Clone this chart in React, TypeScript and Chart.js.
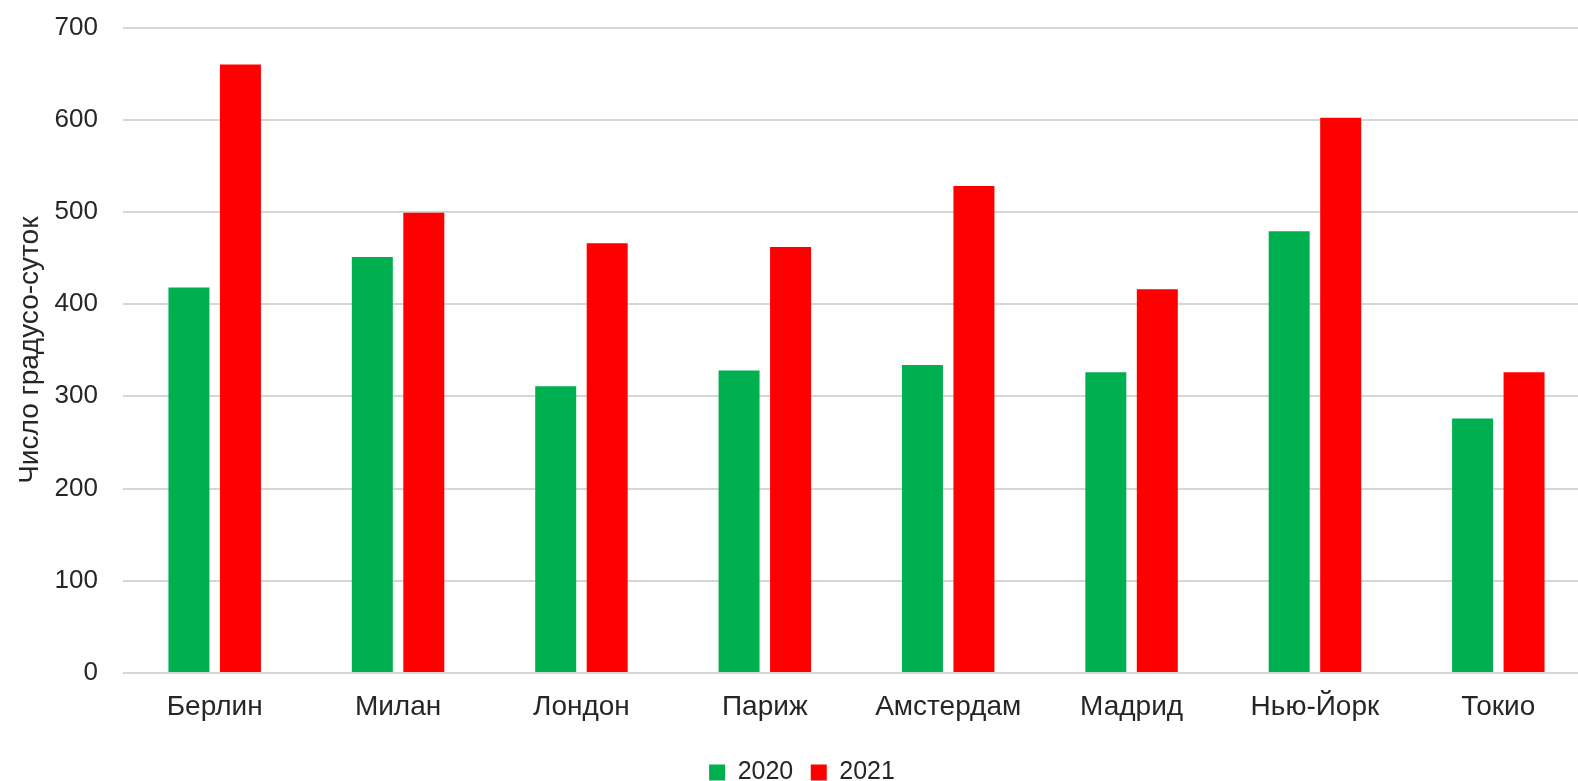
import React, { useEffect, useRef } from "react";
import { Chart, registerables } from "chart.js";

Chart.register(...registerables);

const cities = ["Берлин", "Милан", "Лондон", "Париж", "Амстердам", "Мадрид", "Нью-Йорк", "Токио"];
const values2020 = [418, 451, 311, 328, 334, 326, 479, 276];
const values2021 = [660, 499, 466, 462, 528, 416, 602, 326];
const seriesLabels = ["2020", "2021"];
const yTicksMax = 700;
const yTickStep = 100;
const yTitle = "Число градусо-суток";

const FONT = "'Liberation Sans', Arial, sans-serif";
const TEXT = "#262626";

export default function App() {
  const ref = useRef<HTMLCanvasElement | null>(null);

  useEffect(() => {
    if (!ref.current) return;
    const chart = new Chart(ref.current, {
      type: "bar",
      data: {
        labels: cities,
        datasets: [
          {
            label: seriesLabels[0],
            data: values2020,
            backgroundColor: "#00B050",
            borderWidth: 0,
          },
          {
            label: seriesLabels[1],
            data: values2021,
            backgroundColor: "#FF0000",
            borderWidth: 0,
          },
        ],
      },
      options: {
        responsive: false,
        animation: false,
        devicePixelRatio: 1,
        layout: { padding: { left: 14, right: 34, top: 27.5, bottom: 6 } },
        datasets: {
          bar: { categoryPercentage: 0.5616, barPercentage: 0.796 },
        },
        plugins: {
          tooltip: { enabled: false },
          legend: {
            position: "bottom",
            labels: {
              color: TEXT,
              font: { family: FONT, size: 25 },
              boxWidth: 16,
              boxHeight: 16,
              padding: 17.5,
            },
          },
        },
        scales: {
          x: {
            grid: { display: false, drawTicks: false },
            border: { display: false },
            ticks: {
              color: TEXT,
              font: { family: FONT, size: 28 },
              padding: 18,
              maxRotation: 0,
              autoSkip: false,
            },
          },
          y: {
            min: 0,
            max: yTicksMax,
            afterFit: (scale: any) => {
              scale.width = 109;
              scale.paddingTop = 0;
              scale.paddingBottom = 0;
            },
            grid: { color: "#d6d6d6", lineWidth: 2, drawTicks: false },
            border: { display: false },
            ticks: {
              stepSize: yTickStep,
              color: TEXT,
              font: { family: FONT, size: 26 },
              padding: 25,
            },
            title: {
              display: true,
              text: yTitle,
              color: TEXT,
              font: { family: FONT, size: 28 },
              padding: { top: -1, bottom: 0 },
            },
          },
        },
      },
    });
    return () => chart.destroy();
  }, []);

  return (
    <div
      style={{
        position: "fixed",
        left: 0,
        top: 0,
        width: 1578,
        height: 781,
        overflow: "hidden",
        background: "#fff",
      }}
    >
      <canvas ref={ref} width={1624} height={801} style={{ display: "block" }} />
    </div>
  );
}
